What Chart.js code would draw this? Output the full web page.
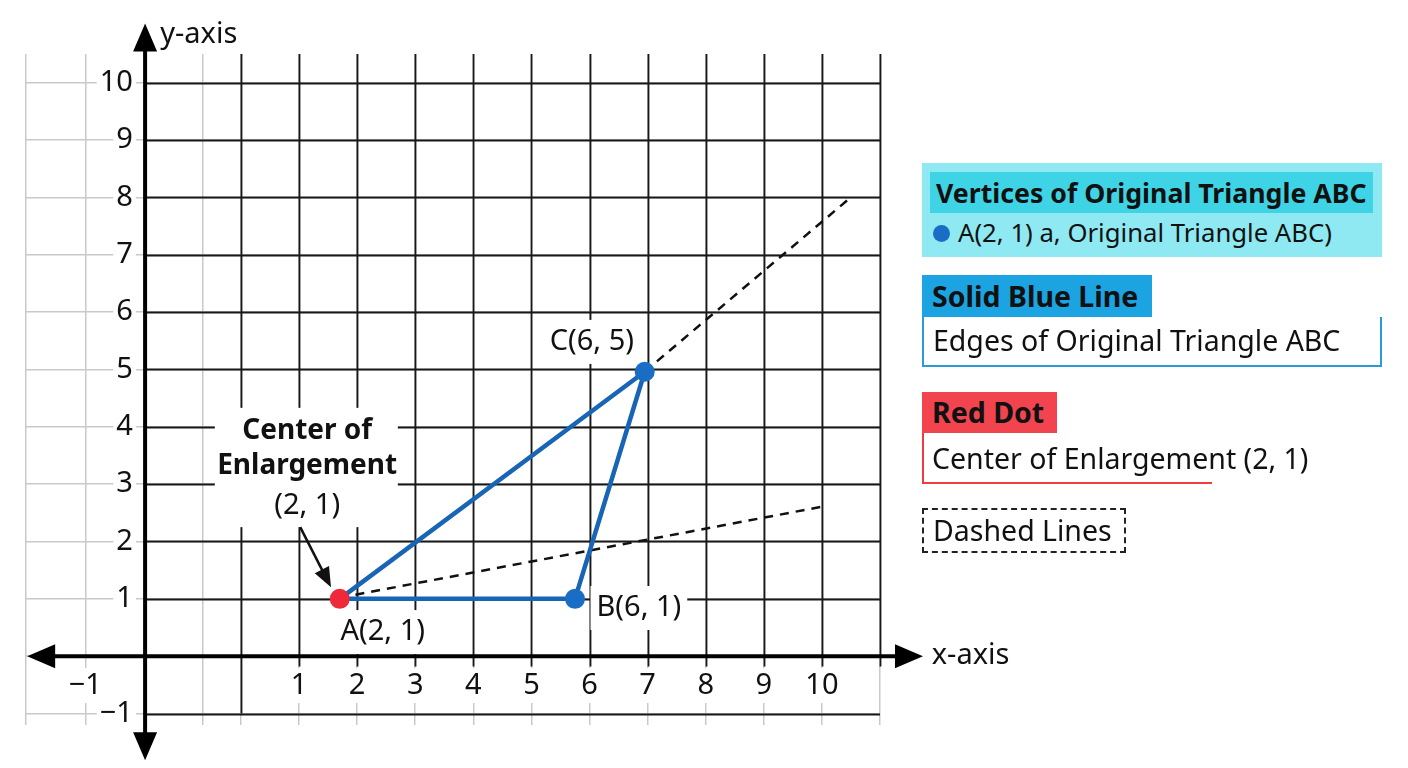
<!DOCTYPE html>
<html>
<head>
<meta charset="utf-8">
<script src="https://cdn.jsdelivr.net/npm/chart.js@4.4.1/dist/chart.umd.min.js"></script>
<style>
  body { margin: 0; background: #fff; }
  #marco { position: relative; width: 1408px; height: 768px; }
  #leyenda div { position: absolute; box-sizing: border-box; font-family: "Noto Sans", sans-serif; color: #111; white-space: nowrap; }
</style>
</head>
<body>
<div id="marco">
  <canvas id="grafico" width="1408" height="768"></canvas>
  <div id="leyenda">
    <div style="left:922px;top:163px;width:460px;height:94px;background:#8fe9f2;"></div>
    <div style="left:930px;top:172px;width:443px;height:41px;background:#3fd4e5;font-weight:bold;font-size:26.7px;line-height:41px;padding-left:6px;">Vertices of Original Triangle ABC</div>
    <div style="left:933px;top:225px;width:17px;height:17px;border-radius:50%;background:#1a6dc4;"></div>
    <div style="left:958px;top:215px;height:36px;font-size:25.7px;line-height:36px;">A(2, 1) a, Original Triangle ABC)</div>

    <div style="left:922px;top:275px;width:230px;height:42px;background:#1ca3e2;font-weight:bold;font-size:28.5px;line-height:42px;padding-left:10px;">Solid Blue Line</div>
    <div style="left:922px;top:317px;width:460px;height:50px;border:2px solid #2b9bd6;border-top:none;font-size:28.5px;line-height:46px;padding-left:9px;">Edges of Original Triangle ABC</div>

    <div style="left:922px;top:392px;width:135px;height:41px;background:#f2444f;font-weight:bold;font-size:28.5px;line-height:41px;padding-left:10px;">Red Dot</div>
    <div style="left:922px;top:433px;width:290px;height:51px;border-left:2px solid #ef3b45;border-bottom:2px solid #ef3b45;font-size:28.5px;line-height:50px;padding-left:8px;">Center of Enlargement (2, 1)</div>

    <div style="left:922px;top:508px;width:204px;height:45px;border:2px dashed #222;font-size:28.5px;line-height:41px;padding-left:9px;">Dashed Lines</div>
  </div>
</div>
<script>
const lienzo = document.getElementById("grafico");

// vertices del triangulo (posicion) y sus rotulos
const nombres_vertices = ["A", "B", "C"];
const rotulos_vertices = ["A(2, 1)", "B(6, 1)", "C(6, 5)"];
const vertices_x = [1.7, 5.75, 6.95];
const vertices_y = [1, 1, 4.96];

// centro de ampliacion
const centro_x = [1.7];
const centro_y = [1];

// lineas discontinuas
const rayo1_x = [1.7, 10.07];
const rayo1_y = [1.02, 2.62];
const rayo2_x = [6.95, 10.45];
const rayo2_y = [4.96, 7.96];

// marcas de los ejes
const ticks_x = [-3.7, -2.68, -1.65, -0.65, 0, 1, 2, 3, 4, 5, 6, 7, 8, 9, 10, 11];
const textos_ticks_x = ["", "\u22121", "", "", "", "1", "2", "3", "4", "5", "6", "7", "8", "9", "10", ""];
const ticks_y = [-1, 0, 1, 2, 3, 4, 5, 6, 7, 8, 9, 10];
const textos_ticks_y = ["\u22121", "", "1", "2", "3", "4", "5", "6", "7", "8", "9", "10"];

const eje_vertical = -1.65; // donde cae el eje y sobre la escala x
const azul = "#1865b6";
const azul_punto = "#1a6dc4";
const rojo = "#ee2a3a";
const gris = "#c9c9c9";
const negro = "#181818";
const fuente = '"Noto Sans", sans-serif';
const fuente_rotulo = "29px " + fuente;

function puntos(xs, ys) {
  return xs.map((v, i) => ({ x: v, y: ys[i] }));
}

// rotulos de los vertices: posicion en unidades de datos
const rotulos = [
  { i: 2, x: 6.04, y: 5.48, alinear: "center" },
  { i: 1, x: 6.12, y: 0.84, alinear: "left" },
  { i: 0, x: 2.44, y: 0.42, alinear: "center" },
];

const nota_centro = {
  caja: [-0.45, 4.33, 2.70, 2.25],
  x: 1.14,
  lineas: [
    { texto: "Center of", y: 3.93, fuente: "bold 28px " + fuente },
    { texto: "Enlargement", y: 3.31, fuente: "bold 28px " + fuente },
    { texto: "(2, 1)", y: 2.63, fuente: "29px " + fuente },
  ],
  flecha: [1.02, 2.25, 1.55, 1.2],
};

function linea(ctx, x1, y1, x2, y2) {
  ctx.beginPath();
  ctx.moveTo(x1, y1);
  ctx.lineTo(x2, y2);
  ctx.stroke();
}

function inicio_rotulo(ctx, r, x) {
  ctx.font = fuente_rotulo;
  const ancho = ctx.measureText(rotulos_vertices[r.i]).width;
  let px = x.getPixelForValue(r.x);
  if (r.alinear === "center") px -= ancho / 2;
  return [px, ancho];
}

const cuadricula = {
  id: "cuadricula",
  beforeDatasetsDraw(chart) {
    const { ctx, scales: { x, y } } = chart;
    ctx.save();
    // tramos negros de la cuadricula
    ctx.strokeStyle = negro;
    ctx.lineWidth = 1.8;
    const izq = x.getPixelForValue(eje_vertical);
    const der = x.getPixelForValue(11);
    ticks_y.forEach((v) => {
      if (v === 0) return;
      const py = Math.round(y.getPixelForValue(v)) + 0.5;
      linea(ctx, izq, py, der, py);
    });
    ticks_x.forEach((v) => {
      if (v < 0) return;
      const px = Math.round(x.getPixelForValue(v)) + 0.5;
      linea(ctx, px, y.getPixelForValue(10.5), px, y.getPixelForValue(v === 0 ? -1 : -0.18));
    });

    // fondos blancos de los rotulos
    ctx.fillStyle = "#fff";
    const c = nota_centro.caja;
    ctx.fillRect(x.getPixelForValue(c[0]), y.getPixelForValue(c[1]),
      x.getPixelForValue(c[2]) - x.getPixelForValue(c[0]), y.getPixelForValue(c[3]) - y.getPixelForValue(c[1]));
    rotulos.forEach((r) => {
      const [px, ancho] = inicio_rotulo(ctx, r, x);
      const py = y.getPixelForValue(r.y);
      ctx.fillRect(px - 6, py - 22, ancho + 12, 44);
    });

    // ejes con flechas
    ctx.strokeStyle = "#000";
    ctx.fillStyle = "#000";
    ctx.lineWidth = 4;
    const y0 = y.getPixelForValue(0);
    const xa = x.getPixelForValue(-3.68);
    const xb = x.getPixelForValue(11.74);
    linea(ctx, xa + 20, y0, xb - 20, y0);
    const ex = x.getPixelForValue(eje_vertical);
    const ya = y.getPixelForValue(11.03);
    const yb = y.getPixelForValue(-1.815);
    linea(ctx, ex, ya + 20, ex, yb - 20);
    ctx.beginPath();
    ctx.moveTo(xa, y0); ctx.lineTo(xa + 28, y0 - 12); ctx.lineTo(xa + 28, y0 + 12); ctx.closePath();
    ctx.moveTo(xb, y0); ctx.lineTo(xb - 28, y0 - 12); ctx.lineTo(xb - 28, y0 + 12); ctx.closePath();
    ctx.moveTo(ex, ya); ctx.lineTo(ex - 12, ya + 28); ctx.lineTo(ex + 12, ya + 28); ctx.closePath();
    ctx.moveTo(ex, yb); ctx.lineTo(ex - 12, yb - 28); ctx.lineTo(ex + 12, yb - 28); ctx.closePath();
    ctx.fill();
    ctx.restore();
  },
  afterDatasetsDraw(chart) {
    const { ctx, scales: { x, y } } = chart;
    ctx.save();
    ctx.fillStyle = "#111";
    ctx.textBaseline = "middle";

    // nombres de los ejes
    ctx.font = "29px " + fuente;
    ctx.textAlign = "left";
    ctx.fillText("y-axis", x.getPixelForValue(-1.39), y.getPixelForValue(10.84));
    ctx.fillText("x-axis", x.getPixelForValue(11.89), y.getPixelForValue(0.0));

    // rotulos de los vertices
    rotulos.forEach((r) => {
      const [px] = inicio_rotulo(ctx, r, x);
      ctx.fillText(rotulos_vertices[r.i], px, y.getPixelForValue(r.y));
    });

    // nota del centro de ampliacion
    ctx.textAlign = "center";
    nota_centro.lineas.forEach((l) => {
      ctx.font = l.fuente;
      ctx.fillText(l.texto, x.getPixelForValue(nota_centro.x), y.getPixelForValue(l.y));
    });
    const f = nota_centro.flecha;
    const x1 = x.getPixelForValue(f[0]), y1 = y.getPixelForValue(f[1]);
    const x2 = x.getPixelForValue(f[2]), y2 = y.getPixelForValue(f[3]);
    const ang = Math.atan2(y2 - y1, x2 - x1);
    ctx.strokeStyle = "#111";
    ctx.lineWidth = 2.5;
    linea(ctx, x1, y1, x2 - 14 * Math.cos(ang), y2 - 14 * Math.sin(ang));
    ctx.beginPath();
    ctx.moveTo(x2, y2);
    ctx.lineTo(x2 - 20 * Math.cos(ang) + 8 * Math.sin(ang), y2 - 20 * Math.sin(ang) - 8 * Math.cos(ang));
    ctx.lineTo(x2 - 20 * Math.cos(ang) - 8 * Math.sin(ang), y2 - 20 * Math.sin(ang) + 8 * Math.cos(ang));
    ctx.closePath();
    ctx.fill();
    ctx.restore();
  },
};

const triangulo = puntos(vertices_x, vertices_y);
triangulo.push({ x: vertices_x[0], y: vertices_y[0] });

const config = {
  type: "scatter",
  data: {
    datasets: [
      {
        label: "Center of Enlargement",
        data: puntos(centro_x, centro_y),
        pointRadius: 10,
        backgroundColor: rojo,
        borderWidth: 0,
      },
      {
        label: "Vertices",
        data: puntos(vertices_x.slice(1), vertices_y.slice(1)),
        pointRadius: 10,
        backgroundColor: azul_punto,
        borderWidth: 0,
      },
      {
        label: "Edges",
        data: triangulo,
        showLine: true,
        borderColor: azul,
        borderWidth: 4.5,
        borderJoinStyle: "round",
        pointRadius: 0,
      },
      {
        label: "Dashed 1",
        data: puntos(rayo1_x, rayo1_y),
        showLine: true,
        borderColor: "#111",
        borderWidth: 2.5,
        borderDash: [9, 7],
        pointRadius: 0,
      },
      {
        label: "Dashed 2",
        data: puntos(rayo2_x, rayo2_y),
        showLine: true,
        borderColor: "#111",
        borderWidth: 2.5,
        borderDash: [9, 7],
        pointRadius: 0,
      },
    ],
  },
  options: {
    responsive: false,
    animation: false,
    layout: { padding: { left: 26, top: 54, right: 528, bottom: 43 } },
    plugins: { legend: { display: false }, tooltip: { enabled: false } },
    scales: {
      x: {
        type: "linear",
        min: -3.7,
        max: 11,
        position: { y: 0 },
        afterBuildTicks: (s) => { s.ticks = ticks_x.map((v) => ({ value: v })); },
        afterFit: (s) => { s.height = 0; },
        grid: { color: gris, lineWidth: 1.5, drawTicks: false },
        border: { display: false },
        ticks: {
          autoSkip: false,
          maxRotation: 0,
          padding: 12,
          color: "#111",
          font: { family: fuente, size: 29 },
          callback: (v, i) => textos_ticks_x[i],
          showLabelBackdrop: true,
          backdropColor: (c) => (c.tick && c.tick.label ? "#fff" : "rgba(0,0,0,0)"),
          backdropPadding: { left: 4, right: 4, top: 0, bottom: 0 },
          z: 1,
        },
      },
      y: {
        type: "linear",
        min: -1.2,
        max: 10.5,
        position: { x: -1.86 },
        afterBuildTicks: (s) => { s.ticks = ticks_y.map((v) => ({ value: v })); },
        afterFit: (s) => { s.width = 0; },
        grid: { color: gris, lineWidth: 1.5, drawTicks: false },
        border: { display: false },
        ticks: {
          autoSkip: false,
          padding: 0,
          color: "#111",
          font: { family: fuente, size: 29 },
          callback: (v, i) => textos_ticks_y[i],
          showLabelBackdrop: true,
          backdropColor: (c) => (c.tick && c.tick.label ? "#fff" : "rgba(0,0,0,0)"),
          backdropPadding: { left: 3, right: 3, top: 0, bottom: 0 },
          z: 1,
        },
      },
    },
  },
  plugins: [cuadricula],
};

new Chart(lienzo, config);
</script>
</body>
</html>
